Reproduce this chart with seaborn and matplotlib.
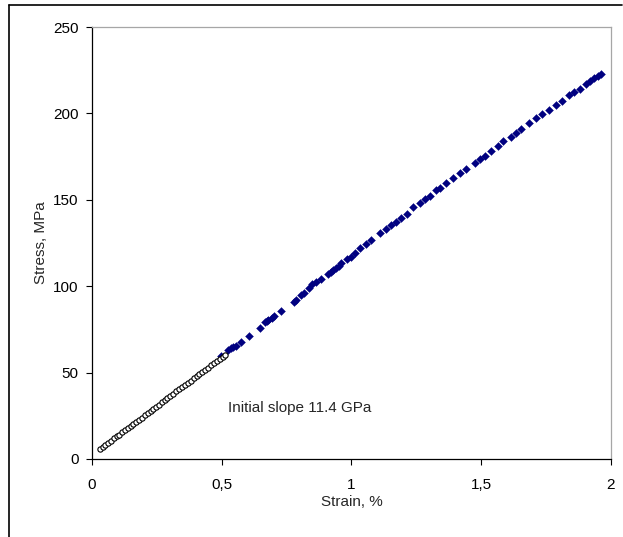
import matplotlib
matplotlib.use("Agg")
import matplotlib.pyplot as plt
import pandas as pd
import seaborn as sns
from matplotlib.lines import Line2D

# initial (linear) region, open circles
init_strain = [0.030, 0.042, 0.051, 0.063, 0.072, 0.084, 0.095, 0.104, 0.116, 0.127,
               0.138, 0.149, 0.158, 0.170, 0.181, 0.192, 0.203, 0.214, 0.226, 0.235,
               0.247, 0.258, 0.270, 0.281, 0.290, 0.302, 0.313, 0.325, 0.336, 0.347,
               0.358, 0.369, 0.380, 0.392, 0.403, 0.414, 0.425, 0.437, 0.448, 0.459,
               0.470, 0.481, 0.492, 0.503, 0.512]
init_stress = [5.5, 6.8, 8.0, 9.4, 10.3, 11.9, 13.1, 14.0, 15.5, 16.6,
               18.0, 19.2, 20.1, 21.6, 22.8, 24.0, 25.4, 26.5, 27.9, 28.8,
               30.3, 31.5, 32.9, 34.2, 35.0, 36.5, 37.7, 39.1, 40.3, 41.5,
               42.8, 44.0, 45.2, 46.6, 47.8, 49.1, 50.3, 51.7, 52.9, 54.1,
               55.4, 56.7, 57.9, 59.3, 60.3]

# full test, filled blue markers
test_strain = [0.499, 0.525, 0.535, 0.544, 0.553, 0.576, 0.606, 0.649, 0.666, 0.673,
               0.679, 0.692, 0.702, 0.730, 0.778, 0.788, 0.805, 0.817, 0.837, 0.846,
               0.865, 0.884, 0.910, 0.920, 0.929, 0.942, 0.952, 0.961, 0.981, 1.000,
               1.012, 1.034, 1.055, 1.077, 1.109, 1.132, 1.154, 1.173, 1.192, 1.212,
               1.237, 1.263, 1.282, 1.301, 1.327, 1.340, 1.366, 1.391, 1.417, 1.440,
               1.475, 1.494, 1.516, 1.539, 1.564, 1.583, 1.616, 1.635, 1.654, 1.686,
               1.712, 1.735, 1.763, 1.789, 1.812, 1.838, 1.859, 1.879, 1.904, 1.920,
               1.936, 1.950, 1.962]
test_stress = [59.6, 63.1, 64.1, 65.0, 65.6, 67.9, 71.2, 75.8, 79.5, 80.0,
               80.6, 81.8, 82.9, 85.5, 90.7, 92.0, 94.7, 96.2, 98.8, 101.1,
               102.4, 104.2, 106.9, 108.2, 109.4, 110.5, 111.9, 113.3, 115.6, 117.1,
               119.4, 121.9, 124.4, 126.7, 130.6, 132.9, 135.4, 137.3, 139.3, 141.8,
               146.0, 148.3, 150.3, 152.2, 155.7, 157.0, 159.9, 162.4, 165.3, 167.6,
               171.1, 173.4, 175.3, 178.4, 181.1, 183.9, 186.5, 188.5, 190.8, 194.3,
               197.2, 199.5, 202.0, 204.9, 207.4, 210.5, 212.6, 213.9, 217.0, 218.6,
               220.3, 221.6, 222.8]

x_ticks = [0, 0.5, 1, 1.5, 2]
x_tick_labels = ["0", "0,5", "1", "1,5", "2"]
y_ticks = [0, 50, 100, 150, 200, 250]

sns.set_style("ticks")
plt.rcParams["font.family"] = ["Liberation Sans", "DejaVu Sans"]

init_df = pd.DataFrame({"strain": init_strain, "stress": init_stress})
test_df = pd.DataFrame({"strain": test_strain, "stress": test_stress})

fig = plt.figure(figsize=(6.23, 5.37), dpi=100)
ax = fig.add_axes([0.1477, 0.1453, 0.833, 0.8044])

sns.scatterplot(data=test_df, x="strain", y="stress", ax=ax, marker="D",
                color="#000080", s=16, edgecolor="#000080", linewidth=0.3, zorder=3)
sns.lineplot(data=init_df, x="strain", y="stress", ax=ax, color="black",
             linewidth=0.9, marker="o", markersize=3.8, markerfacecolor="white",
             markeredgecolor="black", markeredgewidth=0.8, zorder=4)

ax.set_xlim(0, 2)
ax.set_ylim(0, 250)
ax.set_xticks(x_ticks)
ax.set_xticklabels(x_tick_labels)
ax.set_yticks(y_ticks)
ax.tick_params(direction="out", length=4.5, width=0.8, colors="black", labelsize=11)
ax.tick_params(axis="x", pad=9)
ax.tick_params(axis="y", pad=5)
for side in ("left", "bottom"):
    ax.spines[side].set_color("black")
    ax.spines[side].set_linewidth(0.9)
for side in ("top", "right"):
    ax.spines[side].set_visible(True)
    ax.spines[side].set_color("#a6a6a6")
    ax.spines[side].set_linewidth(0.9)

ax.set_xlabel("Strain, %", fontsize=11, labelpad=2)
ax.set_ylabel("Stress, MPa", fontsize=11, labelpad=3.5)
ax.text(0.524, 29.5, "Initial slope 11.4 GPa", fontsize=11, va="center", ha="left")

# outer chart frame (top and left edges)
fig.add_artist(Line2D([9 / 623, 622 / 623], [1 - 5 / 537, 1 - 5 / 537],
                      transform=fig.transFigure, color="black", linewidth=1.2))
fig.add_artist(Line2D([9 / 623, 9 / 623], [0, 1 - 5 / 537],
                      transform=fig.transFigure, color="black", linewidth=1.2))

fig.savefig("out.png", dpi=100, facecolor="white")
plt.close(fig)
